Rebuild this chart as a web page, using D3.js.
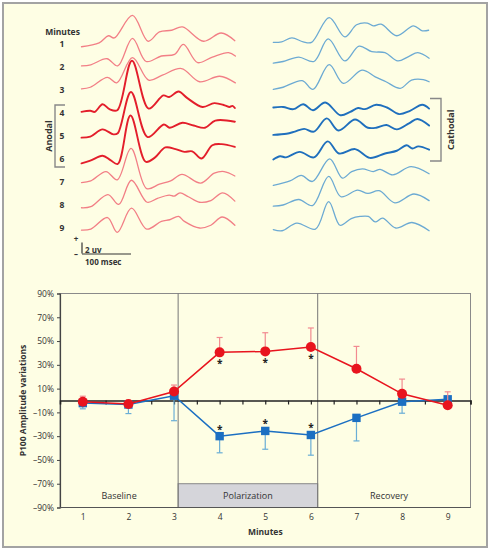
<!DOCTYPE html>
<html><head><meta charset="utf-8">
<script src="https://cdn.jsdelivr.net/npm/d3@7"></script>
<style>
html,body{margin:0;padding:0;background:#fff;}
svg{display:block;font-family:"Open Sans",sans-serif;}
</style></head><body>
<svg id="c" width="490" height="550"></svg>
<script>
// ---------- DATA ----------
const minutes = [1,2,3,4,5,6,7,8,9];
const polarMinutes = [4,5,6];
// P100 amplitude variation (%), mean and one-sided error
const anodalMean = [-1, -3, 7.6, 40.5, 41.3, 45, 26.7, 5.6, -4];
const anodalErr  = [4.6, 3, 5.4, 12.5, 15.7, 16, 18.8, 12.4, 11.3];
const cathodalMean = [-2.2, -3.4, 4, -30, -25.6, -29, -14.6, -1, 1];
const cathodalErr  = [4.8, 7.6, 21, 14, 15.4, 17, 19.4, 9.7, 4];
const sigMinutes = [4,5,6];
const yTicks = [-90,-70,-50,-30,-10,10,30,50,70,90];
const halfTicks = [1,1.5,2,2.5,3,3.5,4,4.5,5,5.5,6,6.5,7,7.5,8,8.5,9,9.5];
const phaseNames = ["Baseline","Polarization","Recovery"];
const phaseEdges = [0.5, 3.09, 6.15, 9.5];

// VEP traces: [time ms, amplitude µV]
const anodal1 = [[0,-0.5],[36,0.2],[55,1.5],[67,1.1],[104,5.2],[136,0.5],[159,2.2],[184,2.5],[206,3.1],[249,0.5],[285,2.0],[313,0.6]];
const anodal2 = [[0,0.2],[19,0.4],[52,1.5],[74,0.2],[104,5.2],[132,1.0],[163,2.0],[190,2.3],[208,4.1],[237,0.8],[267,1.8],[300,2.6],[314,2.0]];
const anodal3 = [[0,0.2],[18,0.5],[53,2.3],[72,1.3],[104,5.9],[137,1.8],[165,2.7],[204,3.9],[241,1.5],[282,2.5],[314,1.3]];
const anodal4 = [[0,0.2],[18,0.4],[27,0.2],[43,1.6],[57,0.7],[73,0.5],[103,9.5],[137,0.8],[167,3.2],[179,2.9],[198,3.9],[216,2.7],[247,1.1],[271,1.8],[292,1.4],[302,1.1],[308,1.3],[313,0.9]];
const anodal5 = [[0,-0.3],[18,-0.1],[43,1.2],[65,0.3],[74,0.5],[101,8.0],[135,-0.2],[168,2.1],[180,1.5],[206,2.4],[229,1.9],[252,1.5],[273,2.8],[313,2.6]];
const anodal6 = [[0,-0.8],[18,-0.3],[43,0.6],[59,-0.2],[74,-0.9],[100,7.9],[131,-0.5],[149,0.2],[171,2.1],[192,1.8],[210,1.3],[226,1.4],[245,0.1],[267,2.5],[286,2.7],[313,2.2]];
const anodal7 = [[0,-0.1],[19,0.2],[50,1.9],[73,0.4],[101,6.1],[133,-1.2],[159,-0.4],[182,0.2],[205,1.4],[243,-0.2],[271,1.6],[291,1.9],[313,1.1]];
const anodal8 = [[0,-0.5],[19,-0.3],[54,1.9],[76,0.1],[102,4.5],[134,0.5],[155,1.2],[179,1.8],[189,1.6],[201,2.2],[218,1.5],[241,0.5],[264,0.8],[288,2.2],[313,0.7]];
const anodal9 = [[0,-0.4],[19,-0.2],[53,1.9],[73,-0.8],[102,3.6],[133,-0.2],[163,1.2],[180,1.5],[198,2.1],[210,1.2],[241,0],[264,0.5],[287,2.0],[313,0.5]];
const cathodal1 = [[0,0.3],[17,0.4],[38,1.1],[61,0.4],[78,0.3],[114,4.8],[146,1.3],[170,3.5],[192,3.8],[204,3.3],[220,3.6],[252,1.5],[286,3.3],[304,2.4],[317,2.5]];
const cathodal2 = [[0,0.7],[20,1.0],[52,1.8],[83,1.0],[112,5.1],[146,1.1],[175,3.8],[201,2.8],[228,2.6],[254,1.1],[276,1.9],[295,2.6],[318,1.6]];
const cathodal3 = [[0,0.1],[20,0.5],[59,1.7],[81,0.1],[114,4.6],[143,1.2],[181,3.6],[208,2.4],[230,1.5],[259,0.3],[282,1.8],[306,1.9],[318,1.5]];
const cathodal4 = [[0,1.0],[20,1.1],[41,0.7],[61,1.6],[81,0.5],[106,1.9],[137,-0.4],[157,0.2],[173,0.9],[187,0.7],[210,1.5],[232,1.0],[257,-0.2],[279,0.4],[304,1.5],[318,0.8]];
const cathodal5 = [[0,0.2],[27,0.4],[44,0.8],[63,1.3],[83,0.8],[109,3.2],[133,1.0],[167,3.0],[193,1.5],[210,1.5],[231,2.0],[252,1.2],[277,2.3],[294,3.1],[318,1.9]];
const cathodal6 = [[0,-0.1],[14,0.5],[26,0.3],[54,1.3],[83,0.3],[111,3.2],[134,1.0],[167,1.8],[197,0.2],[228,1.0],[252,1.5],[272,2.5],[284,1.9],[296,2.3],[318,1.7]];
const cathodal7 = [[0,-0.6],[34,0.2],[57,1.2],[80,0.1],[115,4.2],[141,0.7],[160,1.9],[182,2.4],[204,1.9],[218,2.3],[244,1.3],[281,2.8],[318,1.5]];
const cathodal8 = [[0,-0.2],[20,0],[52,1.0],[80,-0.1],[113,5.2],[138,1.5],[172,2.7],[193,2.1],[216,2.6],[248,0.4],[287,2.0],[318,0.8]];
const cathodal9 = [[0,-0.3],[18,-0.5],[48,0.9],[86,-0.2],[113,4.8],[136,0.5],[159,1.7],[177,2.1],[194,2.1],[208,1.1],[223,1.8],[250,0],[283,1.0],[318,-0.5]];
const anodalTraces = [anodal1,anodal2,anodal3,anodal4,anodal5,anodal6,anodal7,anodal8,anodal9];
const cathodalTraces = [cathodal1,cathodal2,cathodal3,cathodal4,cathodal5,cathodal6,cathodal7,cathodal8,cathodal9];
const scaleBarUV = 2, scaleBarMs = 100;

// ---------- DRAW ----------
const svg = d3.select("#c");
const TXT = "#333";
svg.append("rect").attr("x",3).attr("y",3).attr("width",484).attr("height",544)
  .attr("fill","#fefee4").attr("stroke","#a3a3a3").attr("stroke-width",2);

// --- top panel: traces ---
const rowY = d3.scaleLinear().domain([1,9]).range([44,228]);
const vS = d3.scaleLinear().domain([0,1]).range([0,-5.5]);
const tL = d3.scaleLinear().domain([0,100]).range([81.5,130.5]);
const tR = d3.scaleLinear().domain([0,100]).range([273.3,322.3]);
const COL = {lr:"#f27f86", br:"#e31e2b", lb:"#6caad3", bb:"#1f6fbd"};

function drawTraces(traces, tx, light, bold){
  traces.forEach((tr,i)=>{
    const m = minutes[i];
    const hi = polarMinutes.includes(m);
    const line = d3.line().x(d=>tx(d[0])).y(d=>rowY(m)+vS(d[1])).curve(d3.curveCatmullRom.alpha(0.5));
    svg.append("path").attr("d",line(tr)).attr("fill","none")
      .attr("stroke",hi?bold:light).attr("stroke-width",hi?1.9:1.3)
      .attr("stroke-linejoin","round").attr("stroke-linecap","round");
  });
}
drawTraces(anodalTraces, tL, COL.lr, COL.br);
drawTraces(cathodalTraces, tR, COL.lb, COL.bb);

// minute labels
svg.append("text").attr("x",62.5).attr("y",34.5).attr("text-anchor","middle")
  .attr("font-size",8.5).attr("font-weight","bold").attr("fill",TXT).text("Minutes");
svg.selectAll("text.min").data(minutes).enter().append("text").attr("class","min")
  .attr("x",62).attr("y",d=>rowY(d)+3).attr("text-anchor","middle")
  .attr("font-size",8.5).attr("font-weight","bold").attr("fill",TXT).text(d=>d);

// brackets
const brTop = rowY(polarMinutes[0]) - 8, brBot = rowY(polarMinutes[2]) + 8;
svg.append("path").attr("d",`M65,${brTop}H55V${brBot}H65`).attr("fill","none").attr("stroke","#888").attr("stroke-width",1.4);
svg.append("text").attr("transform",`translate(52,${(brTop+brBot)/2}) rotate(-90)`).attr("text-anchor","middle")
  .attr("font-size",9).attr("font-weight","bold").attr("fill",TXT).text("Anodal");
const cbTop = rowY(polarMinutes[0]) - 14.5, cbBot = rowY(polarMinutes[2]) + 2;
svg.append("path").attr("d",`M430,${cbTop}H441V${cbBot}H430`).attr("fill","none").attr("stroke","#888").attr("stroke-width",1.4);
svg.append("text").attr("transform",`translate(453.5,${(cbTop+cbBot)/2}) rotate(-90)`).attr("text-anchor","middle")
  .attr("font-size",9).attr("font-weight","bold").attr("fill",TXT).text("Cathodal");

// scale bar
const sbx = 82, sby = 253.5;
svg.append("line").attr("x1",sbx).attr("x2",sbx).attr("y1",sby).attr("y2",sby+vS(scaleBarUV)).attr("stroke","#333").attr("stroke-width",1.2);
svg.append("line").attr("x1",sbx).attr("x2",sbx+tL(scaleBarMs)-tL(0)).attr("y1",sby+0.5).attr("y2",sby+0.5).attr("stroke","#333").attr("stroke-width",1.2);
svg.append("text").attr("x",76).attr("y",242).attr("text-anchor","middle").attr("font-size",8).attr("font-weight","bold").attr("fill",TXT).text("+");
svg.append("text").attr("x",76).attr("y",257).attr("text-anchor","middle").attr("font-size",8).attr("font-weight","bold").attr("fill",TXT).text("\u2013");
svg.append("text").attr("x",85).attr("y",253).attr("font-size",8).attr("font-weight","bold").attr("fill",TXT).text(scaleBarUV+" uv");
svg.append("text").attr("x",85).attr("y",265).attr("font-size",8).attr("font-weight","bold").attr("fill",TXT).text(scaleBarMs+" msec");

// --- bottom panel ---
const x = d3.scaleLinear().domain([0.5,9.5]).range([60,470.5]);
const y = d3.scaleLinear().domain([-90,90]).range([507.5,293.5]);
const g = svg.append("g");

// polarization strip
g.append("rect").attr("x",x(phaseEdges[1])).attr("y",y(-70)).attr("width",x(phaseEdges[2])-x(phaseEdges[1]))
  .attr("height",y(-90)-y(-70)).attr("fill","#d5d5da").attr("stroke","#888").attr("stroke-width",1);
// frame
g.append("rect").attr("x",x(0.5)).attr("y",y(90)).attr("width",x(9.5)-x(0.5)).attr("height",y(-90)-y(90))
  .attr("fill","none").attr("stroke","#8a8a8a").attr("stroke-width",1);
// dividers
g.selectAll("line.div").data(phaseEdges.slice(1,3)).enter().append("line").attr("class","div")
  .attr("x1",d=>x(d)).attr("x2",d=>x(d)).attr("y1",y(90)).attr("y2",y(-90)).attr("stroke","#777").attr("stroke-width",1);
// phase labels
g.selectAll("text.ph").data(phaseNames).enter().append("text").attr("class","ph")
  .attr("x",(d,i)=>(x(phaseEdges[i])+x(phaseEdges[i+1]))/2 + (i===2?-5:0)).attr("y",(y(-70)+y(-90))/2+3.5)
  .attr("text-anchor","middle").attr("font-size",9).attr("fill",TXT).text(d=>d);

// y axis
const ya = g.append("g").attr("transform",`translate(${x(0.5)},0)`)
  .call(d3.axisLeft(y).tickValues(yTicks).tickSize(3).tickPadding(3)
    .tickFormat(d=>(d<0?"\u2013":"")+Math.abs(d)+"%"));
ya.select(".domain").attr("stroke","#444").attr("stroke-width",1.2);
ya.selectAll(".tick line").attr("stroke","#444");
ya.selectAll(".tick text").attr("font-size",8.5).attr("fill",TXT).attr("font-family","Open Sans");
// bottom line
g.append("line").attr("x1",x(0.5)).attr("x2",x(9.5)).attr("y1",y(-90)).attr("y2",y(-90)).attr("stroke","#555").attr("stroke-width",1.2);
// x labels
const xa = g.append("g").attr("transform",`translate(0,${y(-90)})`)
  .call(d3.axisBottom(x).tickValues(minutes).tickSize(0).tickPadding(6).tickFormat(d3.format("d")));
xa.select(".domain").remove();
xa.selectAll(".tick text").attr("font-size",8.5).attr("fill",TXT).attr("font-family","Open Sans");
// zero line with ticks
const za = g.append("g").attr("transform",`translate(0,${y(0)})`)
  .call(d3.axisBottom(x).tickValues(halfTicks).tickSize(4).tickFormat(""));
za.select(".domain").attr("stroke","#222").attr("stroke-width",1.6);
za.selectAll(".tick line").attr("stroke","#222").attr("stroke-width",1.2);

// titles
svg.append("text").attr("transform",`translate(26,${y(0)}) rotate(-90)`).attr("text-anchor","middle")
  .attr("font-size",8.5).attr("font-weight","bold").attr("fill",TXT).text("P100 Amplitude variations");
svg.append("text").attr("x",x(5)).attr("y",535).attr("text-anchor","middle")
  .attr("font-size",8.5).attr("font-weight","bold").attr("fill",TXT).text("Minutes");

// series
function series(mean, err, dir, lineCol, errCol, shape){
  const data = minutes.map((m,i)=>({m, v:mean[i], e:err[i]}));
  const eb = g.append("g");
  data.forEach(d=>{
    const ye = y(d.v + dir*d.e);
    eb.append("line").attr("x1",x(d.m)).attr("x2",x(d.m)).attr("y1",y(d.v)).attr("y2",ye).attr("stroke",errCol).attr("stroke-width",1.2);
    eb.append("line").attr("x1",x(d.m)-3).attr("x2",x(d.m)+3).attr("y1",ye).attr("y2",ye).attr("stroke",errCol).attr("stroke-width",1.2);
  });
  g.append("path").attr("d",d3.line().x(d=>x(d.m)).y(d=>y(d.v))(data))
    .attr("fill","none").attr("stroke",lineCol).attr("stroke-width",1.5);
  if(shape==="circle"){
    g.selectAll(null).data(data).enter().append("circle").attr("cx",d=>x(d.m)).attr("cy",d=>y(d.v)).attr("r",5).attr("fill",lineCol);
  } else {
    g.selectAll(null).data(data).enter().append("rect").attr("x",d=>x(d.m)-4.2).attr("y",d=>y(d.v)-4.2)
      .attr("width",8.4).attr("height",8.4).attr("fill",lineCol);
  }
  g.selectAll(null).data(data.filter(d=>sigMinutes.includes(d.m))).enter().append("text")
    .attr("x",d=>x(d.m)).attr("y",d=>dir>0 ? y(d.v)+14.5 : y(d.v)-3.5).attr("text-anchor","middle")
    .attr("font-size",10).attr("font-weight","bold").attr("fill","#222").text("*");
}
series(cathodalMean, cathodalErr, -1, "#1b6fc2", "#6aaed6", "square");
series(anodalMean, anodalErr, 1, "#e8141e", "#f28a90", "circle");
</script>
</body></html>
